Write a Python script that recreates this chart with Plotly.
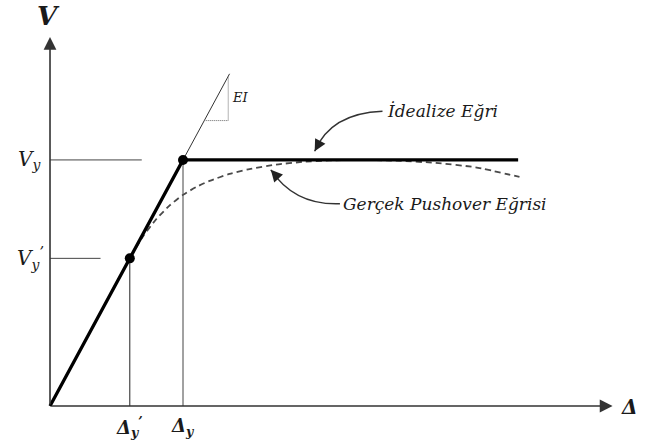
import plotly.graph_objects as go

# ---- data (units: Δy = 1, Vy = 1) ----
delta_y = 1.0
v_y = 1.0
delta_y_p = 0.6
v_y_p = 0.6
x_end = 3.52
axis_x_max = 4.23
axis_y_max = 1.50

# idealized bilinear curve
ideal_x = [0.0, delta_y, x_end]
ideal_y = [0.0, v_y, v_y]

# EI extension and slope triangle
ei_x = [delta_y, 1.35]
ei_y = [v_y, 1.35]
tri_x = [1.16, 1.34, 1.34]
tri_y = [1.16, 1.16, 1.34]

# actual pushover curve (dashed)
push_x = [0.0, 0.30, 0.60, 0.70, 0.80, 0.90, 1.00, 1.10, 1.20, 1.35, 1.50,
          1.70, 1.90, 2.10, 2.30, 2.60, 2.90, 3.20, 3.53]
push_y = [0.0, 0.30, 0.60, 0.69, 0.76, 0.815, 0.858, 0.89, 0.915, 0.943, 0.963,
          0.981, 0.992, 0.998, 1.0, 0.997, 0.988, 0.970, 0.931]

# leader curves (start, control, end)
lead1 = [(2.50, 1.198), (2.11, 1.190), (1.99, 1.035)]
lead2 = [(2.18, 0.822), (1.84, 0.815), (1.66, 0.960)]

fig = go.Figure()

serif = "DejaVu Serif"

# guide lines
fig.add_trace(go.Scatter(x=[0, 0.69], y=[v_y, v_y], mode="lines",
                         line=dict(color="#444", width=1), hoverinfo="skip"))
fig.add_trace(go.Scatter(x=[0, 0.38], y=[v_y_p, v_y_p], mode="lines",
                         line=dict(color="#444", width=1), hoverinfo="skip"))
fig.add_trace(go.Scatter(x=[delta_y, delta_y], y=[0, v_y], mode="lines",
                         line=dict(color="#444", width=1), hoverinfo="skip"))
fig.add_trace(go.Scatter(x=[delta_y_p, delta_y_p], y=[0, v_y_p], mode="lines",
                         line=dict(color="#222", width=1), hoverinfo="skip"))

# EI line and triangle
fig.add_trace(go.Scatter(x=ei_x, y=ei_y, mode="lines",
                         line=dict(color="#333", width=1), hoverinfo="skip"))
fig.add_trace(go.Scatter(x=tri_x, y=tri_y, mode="lines",
                         line=dict(color="#666", width=1, dash="1px,1px"), hoverinfo="skip"))

# pushover dashed
fig.add_trace(go.Scatter(x=push_x, y=push_y, mode="lines",
                         line=dict(color="#4a4a4a", width=1.8, dash="6px,4px",
                                   shape="spline", smoothing=0.6),
                         hoverinfo="skip"))

# idealized curve
fig.add_trace(go.Scatter(x=ideal_x, y=ideal_y, mode="lines",
                         line=dict(color="black", width=3.3), hoverinfo="skip"))

# points
fig.add_trace(go.Scatter(x=[delta_y_p, delta_y], y=[v_y_p, v_y], mode="markers",
                         marker=dict(color="black", size=10), hoverinfo="skip"))

shapes = []
for (s, c, e) in (lead1, lead2):
    shapes.append(dict(type="path", xref="x", yref="y",
                       path=f"M {s[0]},{s[1]} Q {c[0]},{c[1]} {e[0]},{e[1]}",
                       line=dict(color="#333", width=1.4)))

annotations = []
# axes with arrows
annotations.append(dict(x=0, y=axis_y_max, ax=0, ay=0, axref="x", ayref="y",
                        xref="x", yref="y", text="", showarrow=True, arrowhead=2,
                        arrowsize=1.6, arrowwidth=1.6, arrowcolor="#333"))
annotations.append(dict(x=axis_x_max, y=0, ax=0, ay=0, axref="x", ayref="y",
                        xref="x", yref="y", text="", showarrow=True, arrowhead=2,
                        arrowsize=1.6, arrowwidth=1.6, arrowcolor="#333"))
# leader arrowheads
annotations.append(dict(x=lead1[2][0], y=lead1[2][1], ax=6, ay=-11, text="",
                        showarrow=True, arrowhead=2, arrowsize=1.8, arrowwidth=1.3,
                        arrowcolor="#222"))
annotations.append(dict(x=lead2[2][0], y=lead2[2][1], ax=9, ay=10, text="",
                        showarrow=True, arrowhead=2, arrowsize=1.8, arrowwidth=1.3,
                        arrowcolor="#222"))


def txt(x, y, t, size, xanchor="center", yanchor="middle", bold=False):
    annotations.append(dict(x=x, y=y, text=(f"<b><i>{t}</i></b>" if bold else f"<i>{t}</i>"),
                            showarrow=False, xanchor=xanchor, yanchor=yanchor,
                            font=dict(family=serif, size=size, color="#1a1a1a")))


txt(-0.01, 1.585, "V", 26, bold=True)
txt(-0.05, v_y, "V<sub>y</sub>", 20, xanchor="right")
txt(-0.03, v_y_p, "V<sub>y</sub><sup>’</sup>", 20, xanchor="right")
txt(delta_y_p, -0.085, "Δ<sub>y</sub><sup>’</sup>", 18, bold=True)
txt(delta_y, -0.085, "Δ<sub>y</sub>", 18, bold=True)
txt(4.36, -0.005, "Δ", 20, bold=True)
txt(1.355, 1.255, "EI", 13, xanchor="left")
txt(2.52, 1.198, "İdealize Eğri", 17, xanchor="left")
txt(2.19, 0.822, "Gerçek Pushover Eğrisi", 17, xanchor="left")

fig.update_layout(
    width=653, height=444, margin=dict(l=0, r=0, t=0, b=0),
    paper_bgcolor="white", plot_bgcolor="white", showlegend=False,
    shapes=shapes, annotations=annotations,
    xaxis=dict(range=[-0.376, 4.534], visible=False, fixedrange=True),
    yaxis=dict(range=[-0.1545, 1.650], visible=False, fixedrange=True),
)

fig.write_html("out.html", config={"displayModeBar": False},
               post_script="document.body.style.margin='0';")
